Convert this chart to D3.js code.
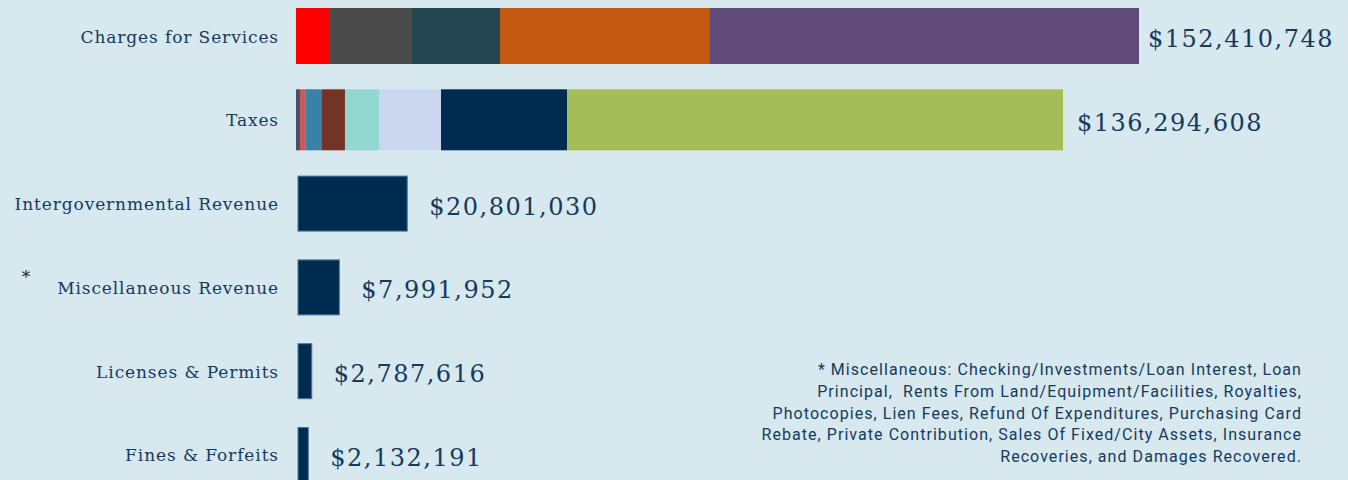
<!DOCTYPE html>
<html>
<head>
<meta charset="utf-8">
<script src="https://cdn.jsdelivr.net/npm/d3@7"></script>
<style>
  html, body { margin: 0; padding: 0; background: #d7e9ee; }
  svg { display: block; }
</style>
</head>
<body>
<svg id="chart" width="1348" height="480"></svg>
<script>
// ---- data ----
const categories = ["Charges for Services", "Taxes", "Intergovernmental Revenue",
                    "Miscellaneous Revenue", "Licenses & Permits", "Fines & Forfeits"];
const totalLabels = ["$152,410,748", "$136,294,608", "$20,801,030",
                     "$7,991,952", "$2,787,616", "$2,132,191"];
// stacked segments (dollars)
const chargesSegments = [6420000, 15470000, 16600000, 39620000, 80940000];
const chargesColors   = ["#ff0000", "#4a4a4a", "#244650", "#c45a11", "#5f4a7a"];
const taxesSegments   = [750000, 1000000, 3150000, 4340000, 6420000, 11700000, 23770000, 93580000];
const taxesColors     = ["#4a4e66", "#c85a5a", "#3a81a6", "#733426", "#93d8d0", "#cbd6ef", "#002b51", "#a5bd59"];
// single bars
const singleValues = [20801030, 7991952, 2787616, 2132191];
const footnoteLines = [
  "* Miscellaneous: Checking/Investments/Loan Interest, Loan",
  "Principal,  Rents From Land/Equipment/Facilities, Royalties,",
  "Photocopies, Lien Fees, Refund Of Expenditures, Purchasing Card",
  "Rebate, Private Contribution, Sales Of Fixed/City Assets, Insurance",
  "Recoveries, and Damages Recovered."
];

// ---- layout ----
const svg = d3.select("#chart");
const textColor = "#143a60";
const x0 = 296;
const maxTotal = d3.sum(chargesSegments);
const x = d3.scaleLinear().domain([0, maxTotal]).range([x0, x0 + 843]);
const y = d3.scaleBand().domain(categories).range([8, 483]).paddingInner(0.3317).paddingOuter(0);
const bw = y.bandwidth();

function stacked(cat, values, colors, grow) {
  let acc = 0;
  const segs = values.map((v, i) => { const s = {start: acc, end: acc + v, color: colors[i]}; acc += v; return s; });
  svg.append("g").selectAll("rect").data(segs).join("rect")
    .attr("x", d => x(d.start))
    .attr("width", d => x(d.end) - x(d.start))
    .attr("y", y(cat) - grow)
    .attr("height", bw + 2 * grow)
    .attr("fill", d => d.color);
  return acc;
}
const chargesTotal = stacked(categories[0], chargesSegments, chargesColors, 0);
const taxesTotal = stacked(categories[1], taxesSegments, taxesColors, 2.5);

const singles = singleValues.map((v, i) => ({cat: categories[i + 2], value: v}));
svg.append("g").selectAll("rect").data(singles).join("rect")
  .attr("x", x(0) + 2)
  .attr("width", d => x(d.value) - x(0) - 1)
  .attr("y", d => y(d.cat) + 0.5)
  .attr("height", bw - 1)
  .attr("fill", "#002b51")
  .attr("stroke", "#4f7897")
  .attr("stroke-width", 1);

// category labels
svg.append("g").selectAll("text").data(categories).join("text")
  .attr("x", 279)
  .attr("y", d => y(d) + bw / 2 + 6.5)
  .attr("text-anchor", "end")
  .attr("fill", textColor)
  .style("font-family", "'DejaVu Serif', serif")
  .style("font-size", "17px")
  .style("letter-spacing", "0.9px")
  .text(d => d);

// asterisk
svg.append("text")
  .attr("x", 26)
  .attr("y", y(categories[3]) + bw / 2 - 4)
  .attr("text-anchor", "middle")
  .attr("fill", "#222")
  .style("font-family", "'DejaVu Serif', serif")
  .style("font-size", "17px")
  .text("*");

// value labels
const ends = [x(chargesTotal) + 9, x(taxesTotal) + 14].concat(singleValues.map(v => x(v) + 23));
svg.append("g").selectAll("text").data(categories).join("text")
  .attr("x", (d, i) => ends[i])
  .attr("y", d => y(d) + bw / 2 + 11)
  .attr("fill", textColor)
  .style("font-family", "'DejaVu Serif', serif")
  .style("font-size", "24px")
  .style("letter-spacing", "1.5px")
  .text((d, i) => totalLabels[i]);

// footnote
svg.append("g").selectAll("text").data(footnoteLines).join("text")
  .attr("x", 1302)
  .attr("y", (d, i) => 375 + i * 21.8)
  .attr("text-anchor", "end")
  .attr("fill", textColor)
  .attr("xml:space", "preserve")
  .style("white-space", "pre")
  .style("font-family", "Roboto, sans-serif")
  .style("font-size", "16px")
  .style("letter-spacing", "1.05px")
  .text(d => d);
</script>
</body>
</html>
